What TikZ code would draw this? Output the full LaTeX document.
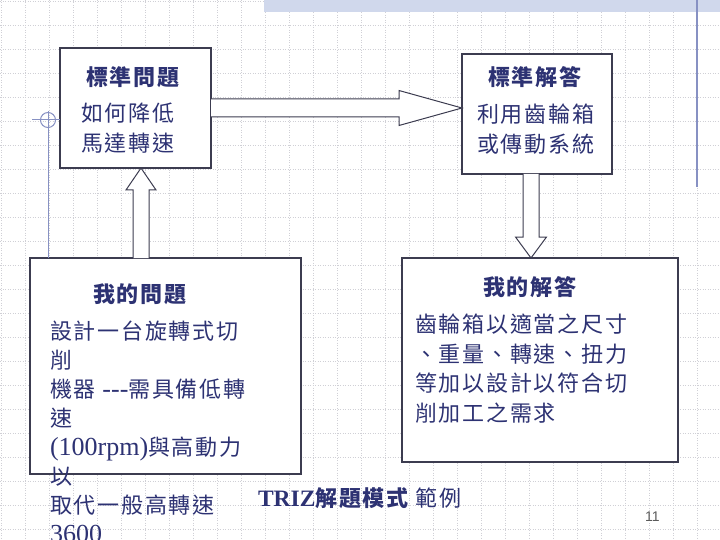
\documentclass[tikz,border=0pt]{standalone}
\usepackage{fontspec}
\setmainfont{Noto Sans CJK TC}[LetterSpace=8]
\newfontfamily\lat{Liberation Serif}
\newfontfamily\pnfont{Liberation Sans}
\usetikzlibrary{calc}
\definecolor{ink}{RGB}{45,50,115}
\definecolor{boxline}{RGB}{60,60,80}
\definecolor{gridc}{RGB}{208,208,214}
\definecolor{deco}{RGB}{135,145,195}
\definecolor{band}{RGB}{208,216,236}
\tikzset{
  gridline/.style={gridc, line width=0.8pt, dash pattern=on 1pt off 1.5pt},
  box/.style={draw=boxline, fill=white, line width=1.2pt, rectangle, inner sep=0pt, outer sep=0pt},
  barrow/.style={draw=boxline, fill=white, line width=1pt, line join=miter},
  txt/.style={text=ink, inner sep=0pt, outer sep=0pt, anchor=base west, font=\fontsize{22}{26}\selectfont},
  head/.style={txt, font=\fontsize{22}{26}\selectfont\bfseries},
  decoline/.style={deco, line width=1pt}
}
\begin{document}
\begin{tikzpicture}[x=1pt, y=-1pt]
\useasboundingbox (0,0) rectangle (720,540);
% background grid
\foreach \k in {0,...,29} \draw[gridline] ({24*\k+1},0) -- ({24*\k+1},540);
\foreach \k in {0,...,22} \draw[gridline] (0,{24*\k+1}) -- (720,{24*\k+1});
% top band and right line
\fill[band] (264,0) rectangle (720,12);
\draw[decoline, line width=1.3pt] (697,0) -- (697,187);
% boxes
\node[box, minimum width=151pt, minimum height=120pt] (b1) at (135.5,108) {};
\node[box, minimum width=150pt, minimum height=120pt] (b2) at (537,114) {};
\node[box, minimum width=271pt, minimum height=216pt] (b3) at (165.5,366) {};
\node[box, minimum width=276pt, minimum height=204pt] (b4) at (540,360) {};
% crosshair decoration
\coordinate (cc) at (48,120);
\draw[decoline] (48,111) -- (48,0 |- b3.north);
\draw[decoline] (32,120) -- (b1.west |- cc);
\draw[decoline] (cc) circle (7.5);
% horizontal block arrow b1 -> b2
\coordinate (hT) at (b2.west |- b1.east);
\draw[barrow] ($(b1.east)+(0,-9)$) -- ($(hT)+(-63,-9)$) -- ($(hT)+(-63,-17.5)$) -- (hT)
  -- ($(hT)+(-63,17.5)$) -- ($(hT)+(-63,9)$) -- ($(b1.east)+(0,9)$);
% up block arrow b3 -> b1
\coordinate (uT) at (141,0 |- b1.south);
\coordinate (uB) at (141,0 |- b3.north);
\draw[barrow] ($(uB)+(-8,0)$) -- ($(uT)+(-8,22)$) -- ($(uT)+(-15,22)$) -- (uT)
  -- ($(uT)+(15,22)$) -- ($(uT)+(8,22)$) -- ($(uB)+(8,0)$);
% down block arrow b2 -> b4
\coordinate (dT) at (531,0 |- b4.north);
\coordinate (dB) at (531,0 |- b2.south);
\draw[barrow] ($(dB)+(-8,0)$) -- ($(dT)+(-8,-21)$) -- ($(dT)+(-15.5,-21)$) -- (dT)
  -- ($(dT)+(15.5,-21)$) -- ($(dT)+(8,-21)$) -- ($(dB)+(8,0)$);
% texts box 1
\node[head] (h1) at (86,86) {標準問題};
\node[txt] (t1a) at (81,122) {如何降低};
\node[txt] (t1b) at (81,152) {馬達轉速};
% texts box 2
\node[head] (h2) at (488,85.5) {標準解答};
\node[txt] (t2a) at (477,123) {利用齒輪箱};
\node[txt] (t2b) at (477,153) {或傳動系統};
% texts box 3
\node[head] (h3) at (93,302) {我的問題};
\foreach [count=\i] \t in {{設計一台旋轉式切},{削},{機器 {\lat\fontsize{26}{28}\selectfont\mbox{-}\mbox{-}\mbox{-}}需具備低轉},{速},{{\lat\fontsize{26}{28}\selectfont (100rpm)}與高動力},{以},{取代一般高轉速},{{\lat\fontsize{26}{28}\selectfont 3600}}}
  \node[txt] (p\i) at (50,{339.5+29*(\i-1)}) {\t};
% texts box 4
\node[head] (h4) at (483,295.5) {我的解答};
\foreach [count=\i] \t in {{齒輪箱以適當之尺寸},{、重量、轉速、扭力},{等加以設計以符合切},{削加工之需求}}
  \node[txt] (q\i) at (415,{332.5+29.5*(\i-1)}) {\t};
% title
\node[head] (title) at (258,506) {{\lat\fontsize{23.5}{26}\selectfont\bfseries TRIZ}解題模式 {\mdseries 範例}};
% page number
\node[inner sep=0pt, anchor=base west, text={rgb,255:red,90;green,90;blue,90}, font=\pnfont\fontsize{14}{16}\selectfont] (pg) at (645,521) {11};
\end{tikzpicture}
\end{document}
